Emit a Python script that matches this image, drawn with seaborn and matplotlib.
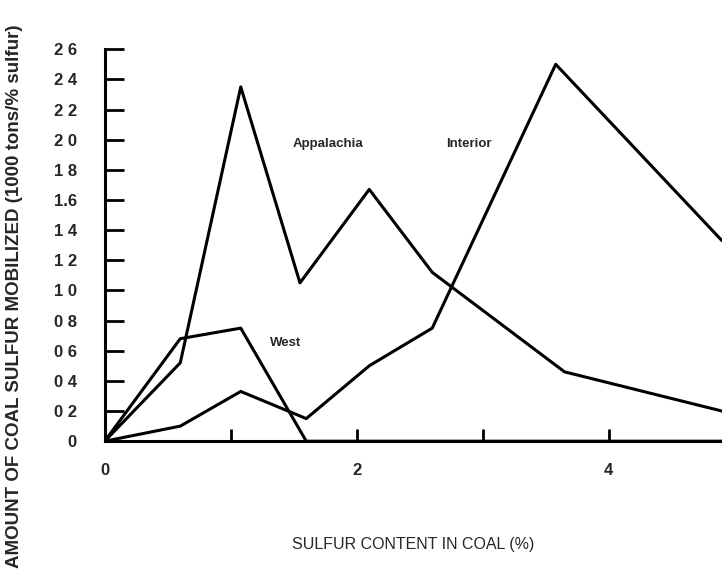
import numpy as np
import matplotlib
matplotlib.use("Agg")
import matplotlib.pyplot as plt
import seaborn as sns
import pandas as pd

# values
x_app = [0, 0.6, 1.08, 1.55, 2.1, 2.6, 3.65, 4.9]
appalachia = [0, 0.52, 2.35, 1.05, 1.67, 1.12, 0.46, 0.2]
x_int = [0, 0.6, 1.08, 1.6, 2.1, 2.6, 3.58, 4.9]
interior = [0, 0.1, 0.33, 0.15, 0.5, 0.75, 2.5, 1.33]
x_west = [0, 0.6, 1.08, 1.6, 4.9]
west = [0, 0.68, 0.75, 0.0, 0.0]

yticks = [0, 0.2, 0.4, 0.6, 0.8, 1.0, 1.2, 1.4, 1.6, 1.8, 2.0, 2.2, 2.4, 2.6]
ytick_labels = ["0", "0 2", "0 4", "0 6", "0 8", "1 0", "1 2", "1 4", "1.6",
                "1 8", "2 0", "2 2", "2 4", "2 6"]
xticks = [0, 1, 2, 3, 4]
xtick_labels = ["0", "", "2", "", "4"]

df = pd.concat([
    pd.DataFrame({"x": x_app, "y": appalachia, "region": "Appalachia"}),
    pd.DataFrame({"x": x_int, "y": interior, "region": "Interior"}),
    pd.DataFrame({"x": x_west, "y": west, "region": "West"}),
])

sns.set_style("ticks")
plt.rcParams['font.family'] = ['Liberation Sans', 'DejaVu Sans']

fig = plt.figure(figsize=(7.22, 5.79), dpi=100)
ax = fig.add_axes([0.145, 0.238, 0.855, 0.677])

sns.lineplot(data=df, x="x", y="y", units="region", estimator=None, sort=False,
             color="black", linewidth=2.2, ax=ax)

ax.set_xlim(0, 4.9)
ax.set_ylim(0, 2.6)
ax.set_yticks(yticks)
ax.set_yticklabels(ytick_labels, fontsize=12, fontweight="bold")
ax.set_xticks(xticks)
ax.set_xticklabels(xtick_labels, fontsize=12, fontweight="bold")
ax.tick_params(axis="y", direction="in", length=14, width=2, color="black", pad=20)
ax.tick_params(axis="x", direction="in", length=9, width=2, color="black", pad=16)
for s in ["top", "right"]:
    ax.spines[s].set_visible(False)
for s in ["left", "bottom"]:
    ax.spines[s].set_linewidth(2.2)
    ax.spines[s].set_color("black")

ax.text(1.77, 1.97, "Appalachia", fontsize=9.5, fontweight="bold", ha="center", va="center")
ax.text(2.89, 1.97, "Interior", fontsize=9.5, fontweight="bold", ha="center", va="center")
ax.text(1.44, 0.65, "West", fontsize=9.5, fontweight="bold", ha="center", va="center")

ax.set_xlabel("SULFUR CONTENT IN COAL (%)", fontsize=11.5, labelpad=42)
ax.set_ylabel("AMOUNT OF COAL SULFUR MOBILIZED (1000 tons/% sulfur)",
              fontsize=13.5, fontweight="bold")
ax.yaxis.set_label_coords(-0.133, 0.37)

fig.savefig("out.png", dpi=100)
